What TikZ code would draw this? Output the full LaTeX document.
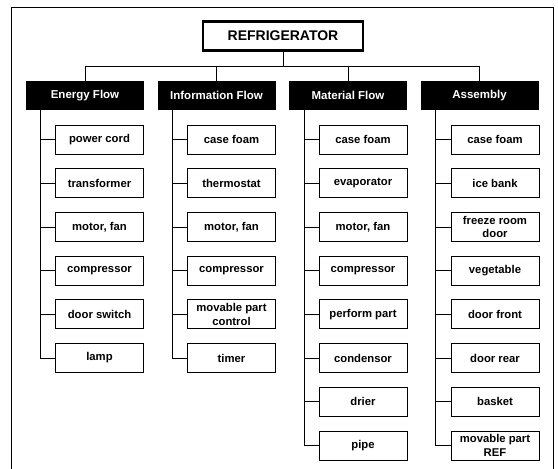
\documentclass[tikz,border=0pt]{standalone}
\usepackage{fontspec}
\setmainfont{Liberation Sans}
\usetikzlibrary{positioning,calc}
\tikzset{
  rootbox/.style={draw, line width=2.4pt, minimum width=160pt, minimum height=29pt, inner sep=0pt, font=\fontsize{14}{15}\selectfont\bfseries},
  headbox/.style={fill=black, text=white, minimum width=118pt, minimum height=29pt, inner sep=0pt, font=\fontsize{11.5}{12}\selectfont\bfseries},
  leafbox/.style={draw, line width=0.8pt, minimum width=88pt, minimum height=29pt, inner sep=0pt, align=center, font=\fontsize{11.3}{13.5}\selectfont\bfseries},
  link/.style={line width=0.8pt}
}
\begin{document}
\begin{tikzpicture}[x=1pt, y=-1pt]
    \useasboundingbox (0,0) rectangle (558,469);
    % outer frame (open at the bottom)
    \draw[line width=0.8pt] (11,469) -- (11,7) -- (553,7) -- (553,469);
    % root and the four views
    \node[rootbox] (root) at (283,36) {REFRIGERATOR};
    \node[headbox] (eh) at (85,95.5) {Energy Flow};
    \node[headbox] (ih) at (216.5,95.5) {Information Flow};
    \node[headbox] (mh) at (348,95.5) {Material Flow};
    \node[headbox] (ah) at (479.5,95.5) {Assembly};
    \coordinate (bus) at (283,66);
    \draw[link] (root.south) -- (bus);
    \draw[link] (eh.north) |- (ah.north |- bus) -- (ah.north);
    \draw[link] (ih.north) -- (ih.north |- bus);
    \draw[link] (mh.north) -- (mh.north |- bus);
    % Energy Flow
    \node[leafbox] (e1) at (99.5,139.5) {power cord};
    \node[leafbox] (e2) at (99.5,183.2) {transformer};
    \node[leafbox] (e3) at (99.5,226.9) {motor, fan};
    \node[leafbox] (e4) at (99.5,270.6) {compressor};
    \node[leafbox] (e5) at (99.5,314.3) {door switch};
    \node[leafbox] (e6) at (99.5,358) {lamp};
    \coordinate (et) at ($(eh.south west)+(15,0)$);
    \draw[link] (et) |- (e6.west);
    \foreach \i in {1,...,5} \draw[link] (e\i.west) -- (e\i.west -| et);
    % Information Flow
    \node[leafbox] (i1) at (231.5,139.5) {case foam};
    \node[leafbox] (i2) at (231.5,183.2) {thermostat};
    \node[leafbox] (i3) at (231.5,226.9) {motor, fan};
    \node[leafbox] (i4) at (231.5,270.6) {compressor};
    \node[leafbox] (i5) at (231.5,314.3) {movable part\\control};
    \node[leafbox] (i6) at (231.5,358) {timer};
    \coordinate (it) at ($(ih.south west)+(15,0)$);
    \draw[link] (it) |- (i6.west);
    \foreach \i in {1,...,5} \draw[link] (i\i.west) -- (i\i.west -| it);
    % Material Flow
    \node[leafbox] (m1) at (363,139.5) {case foam};
    \node[leafbox] (m2) at (363,183.2) {evaporator};
    \node[leafbox] (m3) at (363,226.9) {motor, fan};
    \node[leafbox] (m4) at (363,270.6) {compressor};
    \node[leafbox] (m5) at (363,314.3) {perform part};
    \node[leafbox] (m6) at (363,358) {condensor};
    \node[leafbox] (m7) at (363,401.7) {drier};
    \node[leafbox] (m8) at (363,445.4) {pipe};
    \coordinate (mt) at ($(mh.south west)+(16,0)$);
    \draw[link] (mt) |- (m8.west);
    \foreach \i in {1,...,7} \draw[link] (m\i.west) -- (m\i.west -| mt);
    % Assembly
    \node[leafbox] (a1) at (495,139.5) {case foam};
    \node[leafbox] (a2) at (495,183.2) {ice bank};
    \node[leafbox] (a3) at (495,226.9) {freeze room\\door};
    \node[leafbox] (a4) at (495,270.6) {vegetable};
    \node[leafbox] (a5) at (495,314.3) {door front};
    \node[leafbox] (a6) at (495,358) {door rear};
    \node[leafbox] (a7) at (495,401.7) {basket};
    \node[leafbox] (a8) at (495,445.4) {movable part\\REF};
    \coordinate (at) at ($(ah.south west)+(15,0)$);
    \draw[link] (at) |- (a8.west);
    \foreach \i in {1,...,7} \draw[link] (a\i.west) -- (a\i.west -| at);
  \end{tikzpicture}
\end{document}
